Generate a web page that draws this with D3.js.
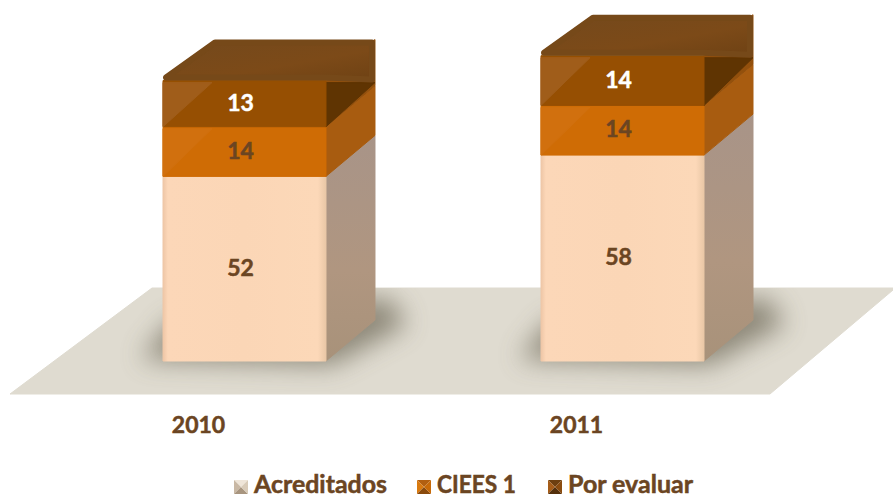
<!DOCTYPE html>
<html>
<head>
<meta charset="utf-8">
<style>
  html, body { margin: 0; padding: 0; background: #fff; }
  svg { display: block; }
  text { font-family: Lato, "Open Sans", sans-serif; font-weight: 700; stroke-width: 0.5px; }
</style>
<script src="https://cdn.jsdelivr.net/npm/d3@7"></script>
</head>
<body>
<svg id="chart"></svg>
<script>
'use strict'

const years = ['2010', '2011']
const seriesNames = ['Acreditados', 'CIEES 1', 'Por evaluar']
const acreditados = [52, 58]
const ciees1 = [14, 14]
const porEvaluar = [13, 14]

const width = 893
const height = 497
const baseY = 361
const depthX = 49
const depthY = 41

// look of each series: front, lighter inner triangle, side, dark inner triangle, label
const looks = [
  { front: 'url(#frontLight)', inner: null, side: 'url(#sideLight)', dark: null, label: '#6b4522', swatch: ['#efe5d8', '#c9b8a4', '#a8957f', '#d9cbb8'] },
  { front: '#cf6c05', inner: '#d1700e', side: '#a85c10', dark: null, label: '#6b4522', swatch: ['#b25f10', '#d97a10', '#8a4a0c', '#c86a08'] },
  { front: '#964f02', inner: '#a05d1a', side: '#93500c', dark: '#5f3402', label: '#ffffff', swatch: ['#6d3f10', '#a55c18', '#54300c', '#8a4c10'] }
]
const legendWidths = [133, 79, 125]

const svg = d3.select('#chart').attr('width', width).attr('height', height)

const defs = svg.append('defs')
const addGradient = (id, x2, y2, stops) => {
  const g = defs.append('linearGradient').attr('id', id)
    .attr('x1', 0).attr('y1', 0).attr('x2', x2).attr('y2', y2)
  stops.forEach(([o, c]) => g.append('stop').attr('offset', o).attr('stop-color', c))
}
addGradient('frontLight', 1, 0, [[0, '#eec6a6'], [0.03, '#fcd7b8'], [0.5, '#fbd6b6'], [0.95, '#fcd8b8'], [1, '#e9c7a6']])
addGradient('sideLight', 0, 1, [[0, '#a89488'], [0.6, '#b09680'], [1, '#a8927a']])
addGradient('topFace', 1, 1, [[0, '#74491c'], [0.6, '#7c4a18'], [1, '#6f4214']])
defs.append('filter').attr('id', 'blur').attr('x', '-40%').attr('y', '-40%').attr('width', '180%').attr('height', '180%')
  .append('feGaussianBlur').attr('stdDeviation', 13)
defs.append('clipPath').attr('id', 'floorClip')
  .append('polygon').attr('points', '152,288 893,288 893,290 770,394 10,394')

const x = d3.scaleBand().domain(years).range([163, 704]).paddingInner(0.5688)
const y = d3.scaleLinear().domain([0, 86]).range([baseY, baseY - 86 * 3.55])

const poly = (parent, pts, fill) => parent.append('polygon')
  .attr('points', pts.map((p) => p.join(',')).join(' '))
  .attr('fill', fill)
  .attr('stroke', fill)
  .attr('stroke-width', 1)
  .attr('stroke-linejoin', 'round')

// floor
poly(svg, [[152, 288], [893, 288], [893, 290], [770, 394], [10, 394]], '#dfdbd0')

const shadows = svg.append('g').attr('clip-path', 'url(#floorClip)')
years.forEach((yr) => {
  const x0 = x(yr)
  const x1 = x0 + x.bandwidth()
  poly(shadows, [[x0 - 22, baseY - 2], [x1 + 6, baseY + 4], [x1 + depthX + 32, baseY - depthY + 4], [x1 + depthX + 14, baseY - depthY - 22], [x0 + 10, baseY - depthY]], '#6a6553')
    .attr('stroke', 'none')
    .attr('opacity', 0.7)
    .attr('filter', 'url(#blur)')
})

const bars = svg.append('g')
years.forEach((yr, i) => {
  const x0 = x(yr)
  const x1 = x0 + x.bandwidth()
  const bar = bars.append('g')
  let total = 0
  const stacks = [acreditados[i], ciees1[i], porEvaluar[i]]
  stacks.forEach((v, s) => {
    const yb = y(total)
    total += v
    const yt = y(total)
    const look = looks[s]
    poly(bar, [[x1, yb], [x1 + depthX, yb - depthY], [x1 + depthX, yt - depthY], [x1, yt]], look.side)
    if (look.dark) {
      poly(bar, [[x1, yb], [x1 + depthX, yt + 2], [x1, yt + 2]], look.dark)
    }
    poly(bar, [[x0, yb], [x1, yb], [x1, yt], [x0, yt]], look.front)
    if (look.inner) {
      poly(bar, [[x0, yb], [x0 + depthX, yt + 2], [x0, yt + 2]], look.inner)
    }
    bar.append('text')
      .attr('x', x0 + x.bandwidth() / 2 - 4)
      .attr('y', (yb + yt) / 2 + 7)
      .attr('text-anchor', 'middle')
      .attr('font-size', 23)
      .attr('fill', look.label)
      .attr('stroke', look.label)
      .text(v)
  })
  // top face plus the back of the box seen through the side, inset for round corners
  const yTop = y(total)
  const r = 3
  poly(bar, [[x0 + r, yTop - r], [x0 + depthX + r, yTop - depthY + r], [x1 + depthX - r, yTop - depthY + r], [x1 + depthX - r, yTop - 1], [x1, yTop - r]], 'url(#topFace)')
    .attr('stroke', '#764919')
    .attr('stroke-width', r * 2)
})
// labels above the top-face strokes
bars.selectAll('text').raise()

// year labels sit left of the bar centres
const axis = d3.axisBottom(x).tickSize(0)
const axisG = svg.append('g').attr('transform', 'translate(-46,394)').call(axis)
axisG.select('.domain').remove()
axisG.selectAll('text')
  .attr('y', 23)
  .attr('dy', '0.71em')
  .attr('font-size', 23)
  .attr('fill', '#6b4522')
  .attr('stroke', '#6b4522')
  .style('font-family', 'Lato, sans-serif')
  .style('font-weight', 700)

// legend
const legendX = d3.scaleOrdinal().domain(seriesNames).range([234, 417, 548])
seriesNames.forEach((name, s) => {
  const lx = legendX(name)
  const g = svg.append('g').attr('transform', `translate(${lx},480)`)
  const c = looks[s].swatch
  const sz = 14
  const mid = sz / 2
  const faces = [
    [[0, 0], [sz, 0], [mid, mid]],
    [[0, 0], [0, sz], [mid, mid]],
    [[0, sz], [sz, sz], [mid, mid]],
    [[sz, 0], [sz, sz], [mid, mid]]
  ]
  faces.forEach((f, k) => g.append('polygon')
    .attr('points', f.map((p) => p.join(',')).join(' '))
    .attr('fill', c[k]))
  g.append('text')
    .attr('x', sz + 6)
    .attr('y', 13)
    .attr('font-size', 24)
    .attr('textLength', legendWidths[s])
    .attr('lengthAdjust', 'spacingAndGlyphs')
    .attr('fill', '#6b4522')
    .attr('stroke', '#6b4522')
    .text(name)
})
</script>
</body>
</html>
